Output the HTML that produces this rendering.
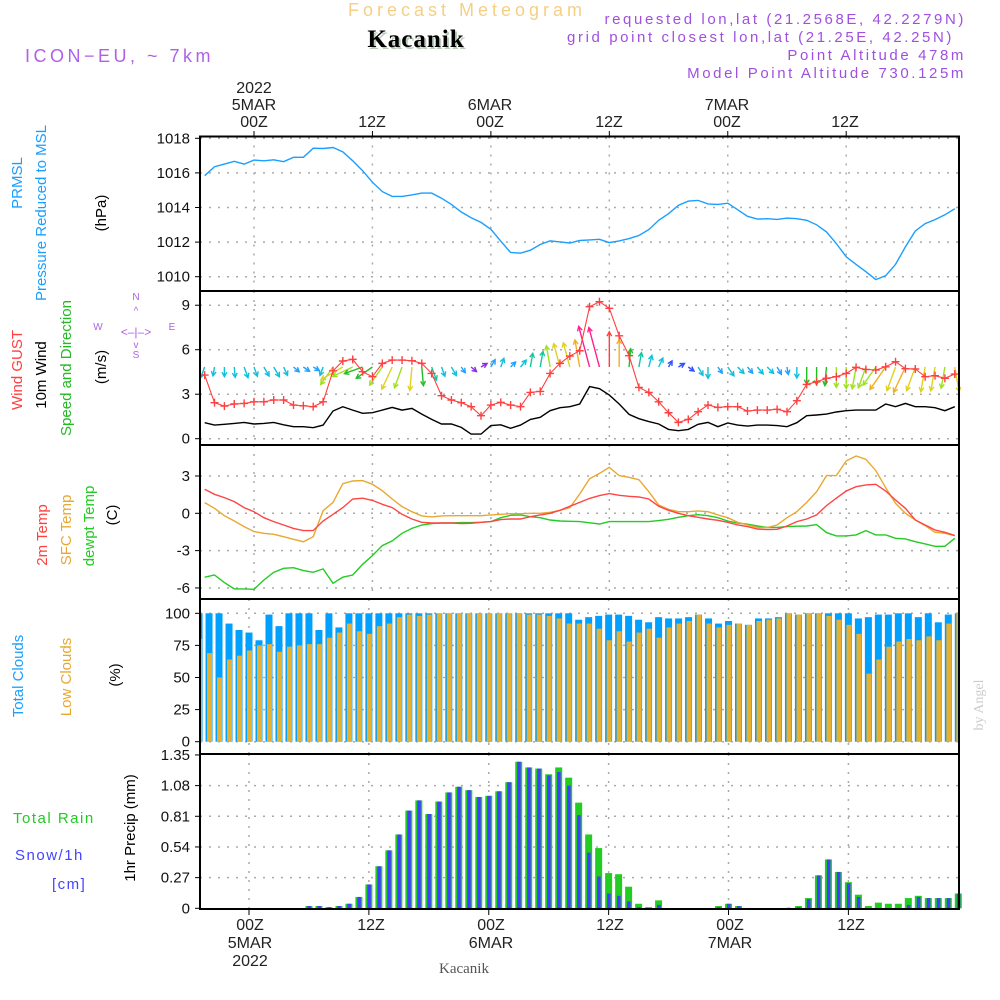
<!DOCTYPE html>
<html><head><meta charset="utf-8"><style>
body{margin:0;background:#fff}
svg{display:block}
text{font-family:"Liberation Sans",sans-serif}
</style></head><body>
<svg id="chart" width="1000" height="1000" viewBox="0 0 1000 1000" xmlns="http://www.w3.org/2000/svg">
<rect x="0" y="0" width="1000" height="1000" fill="#fff"/>
<text x="467" y="16" font-size="18" fill="#f5cf85" text-anchor="middle" letter-spacing="4">Forecast Meteogram</text>
<text x="418" y="49" font-size="25" font-weight="bold" fill="#b8ccb8" text-anchor="middle" style="font-family:'Liberation Serif',serif" letter-spacing="1">Kacanik</text>
<text x="416" y="47" font-size="25" font-weight="bold" fill="#000" text-anchor="middle" style="font-family:'Liberation Serif',serif" letter-spacing="1">Kacanik</text>
<text x="25" y="62" font-size="18" fill="#b060e8" letter-spacing="3.5">ICON−EU, ~ 7km</text>
<g font-size="15" fill="#a050e0" text-anchor="end" letter-spacing="2.6">
<text x="966" y="24">requested lon,lat (21.2568E, 42.2279N)</text>
<text x="954" y="42">grid point closest lon,lat (21.25E, 42.25N)</text>
<text x="966" y="60">Point Altitude 478m</text>
<text x="966" y="78">Model Point Altitude 730.125m</text>
</g>
<g font-size="16" fill="#222" text-anchor="middle">
<text x="254" y="93">2022</text>
<text x="254" y="110">5MAR</text>
<text x="254" y="127">00Z</text>
<text x="372" y="127">12Z</text>
<text x="490" y="110">6MAR</text>
<text x="490" y="127">00Z</text>
<text x="609" y="127">12Z</text>
<text x="727" y="110">7MAR</text>
<text x="727" y="127">00Z</text>
<text x="845" y="127">12Z</text>
</g>
<g font-size="16" fill="#222" text-anchor="middle">
<text x="250" y="930">00Z</text>
<text x="250" y="948">5MAR</text>
<text x="250" y="966">2022</text>
<text x="371" y="930">12Z</text>
<text x="491" y="930">00Z</text>
<text x="491" y="948">6MAR</text>
<text x="610" y="930">12Z</text>
<text x="730" y="930">00Z</text>
<text x="730" y="948">7MAR</text>
<text x="851" y="930">12Z</text>
</g>
<text x="464" y="973" font-size="15" fill="#555" text-anchor="middle" style="font-family:'Liberation Serif',serif">Kacanik</text>
<text transform="translate(983,705) rotate(-90)" font-size="14" fill="#ccc" text-anchor="middle" style="font-family:'Liberation Serif',serif">by Angel</text>

<g font-size="15" text-anchor="middle">
<text transform="translate(22,183) rotate(-90)" fill="#1a9fff">PRMSL</text>
<text transform="translate(46,213) rotate(-90)" fill="#1a9fff">Pressure Reduced to MSL</text>
<text transform="translate(106,213) rotate(-90)" fill="#000">(hPa)</text>
</g>
<g font-size="15" text-anchor="middle">
<text transform="translate(22,370) rotate(-90)" fill="#ff4040">Wind GUST</text>
<text transform="translate(46,375) rotate(-90)" fill="#000">10m Wind</text>
<text transform="translate(71,368) rotate(-90)" fill="#22bb22">Speed and Direction</text>
<text transform="translate(106,367) rotate(-90)" fill="#000">(m/s)</text>
<g fill="#b060e8" font-size="10">
<text x="136" y="300">N</text><text x="136" y="358">S</text><text x="98" y="330">W</text><text x="172" y="330">E</text>
<text x="136" y="336" font-size="12">&lt;–|–&gt;</text>
<text x="136" y="314" font-size="10">^</text><text x="136" y="348" font-size="10">v</text>
</g>
</g>
<g font-size="15" text-anchor="middle">
<text transform="translate(47,535) rotate(-90)" fill="#ff4040">2m Temp</text>
<text transform="translate(71,530) rotate(-90)" fill="#e8a830">SFC Temp</text>
<text transform="translate(94,526) rotate(-90)" fill="#22cc22">dewpt Temp</text>
<text transform="translate(117,515) rotate(-90)" fill="#000">(C)</text>
</g>
<g font-size="15" text-anchor="middle">
<text transform="translate(23,676) rotate(-90)" fill="#1a9fff">Total Clouds</text>
<text transform="translate(71,677) rotate(-90)" fill="#e8a830">Low Clouds</text>
<text transform="translate(120,675) rotate(-90)" fill="#000">(%)</text>
</g>
<g font-size="15">
<text x="13" y="823" fill="#22cc22" letter-spacing="1.5">Total   Rain</text>
<text x="15" y="860" fill="#4444ff" letter-spacing="1.5">Snow/1h</text>
<text x="52" y="889" fill="#4444ff" letter-spacing="1.5">[cm]</text>
<text transform="translate(135,828) rotate(-90)" fill="#000" text-anchor="middle">1hr Precip (mm)</text>
</g>
<g id="plot"></g>
</svg>
<script>
const hours=[];for(let h=-5;h<=71;h++)hours.push(h);
const pressure=[1015.84,1016.36,1016.51,1016.67,1016.51,1016.74,1016.7,1016.76,1016.65,1016.9,1016.9,1017.43,1017.41,1017.47,1017.22,1016.7,1016.13,1015.46,1014.92,1014.64,1014.64,1014.73,1014.83,1014.83,1014.54,1014.18,1013.74,1013.41,1013.14,1012.74,1012.05,1011.40,1011.36,1011.53,1011.86,1012.07,1012.01,1011.95,1012.09,1012.13,
1012.16,1011.97,1012.07,1012.2,1012.38,1012.72,1013.26,1013.64,1014.12,1014.37,1014.41,1014.21,1014.18,1014.25,1013.87,1013.49,1013.33,1013.35,1013.31,1013.39,1013.35,1013.26,1013.0,1012.59,1011.92,1011.15,1010.71,1010.29,1009.83,1010.06,1010.71,1011.72,1012.64,1013.07,1013.3,1013.58,1013.93];
const gust=[4.29,2.43,2.2,2.34,2.38,2.49,2.49,2.61,2.61,2.27,2.22,2.16,2.49,4.58,5.24,5.35,4.52,4.18,5.08,5.3,5.3,5.26,5.08,4.4,2.9,2.61,2.43,2.16,1.55,2.27,2.45,2.27,2.16,3.12,3.19,4.4,5.08,5.57,5.93,8.9,
9.24,8.79,6.94,5.6,3.46,3.12,2.49,1.75,1.1,1.3,1.82,2.27,2.11,2.16,2.16,1.87,1.93,1.93,1.98,1.82,2.56,3.66,3.84,4.07,4.18,4.4,4.81,4.67,4.63,4.85,5.19,4.72,4.7,4.18,4.25,4.07,4.36];
const wind=[1.08,0.92,0.97,1.03,1.1,0.99,1.03,1.1,0.94,0.81,0.81,0.74,0.92,1.87,2.16,1.93,1.71,1.75,1.93,2.11,1.93,2.04,1.66,1.3,0.99,0.99,0.76,0.31,0.31,0.88,0.94,0.7,0.92,1.3,1.44,1.89,2.09,2.16,2.34,3.51,
3.37,2.94,2.34,1.64,1.35,1.15,0.99,0.63,0.54,0.63,0.97,1.1,0.81,1.06,0.92,0.85,0.92,0.92,0.88,0.81,1.08,1.55,1.6,1.66,1.8,1.89,1.93,1.93,1.93,2.34,2.16,2.38,2.16,2.16,2.09,1.89,2.16];
const windDir=[200,190,180,175,160,160,150,150,155,130,125,120,
200,215,240,245,250,235,215,205,200,185,175,160,160,150,145,130,
60,30,20,45,40,10,10,350,345,345,350,345,345,0,0,5,
10,15,25,30,60,125,150,180,145,145,135,140,140,135,150,170,
180,180,180,185,180,180,190,200,215,215,200,205,200,190,190,190,170];
const temp2m=[1.93,1.53,1.26,0.94,0.46,0.13,-0.35,-0.67,-0.94,-1.21,-1.39,-1.39,-0.62,-0.08,0.46,1.15,1.21,1.04,0.72,0.46,-0.08,-0.46,-0.72,-0.78,-0.78,-0.78,-0.83,-0.8,-0.72,-0.67,-0.51,-0.46,-0.46,-0.27,-0.13,0,0.24,0.56,0.88,1.2,
1.42,1.58,1.45,1.37,1.31,1.15,0.56,0.24,0,-0.19,-0.32,-0.46,-0.56,-0.72,-0.94,-1.07,-1.26,-1.31,-1.29,-1.02,-0.67,-0.46,-0.13,0.62,1.21,1.79,2.14,2.28,2.33,1.79,1.07,0.4,-0.54,-0.94,-1.34,-1.53,-1.79];
const tempSfc=[0.86,0.4,-0.19,-0.62,-1.07,-1.47,-1.61,-1.69,-1.88,-2.09,-2.28,-1.88,0.21,0.88,2.38,2.6,2.63,2.33,1.82,1.15,0.54,0.13,-0.21,-0.29,-0.21,-0.19,-0.19,-0.19,-0.19,-0.13,-0.08,-0.03,-0.03,0,0,0.08,0.24,0.46,1.55,2.77,
3.21,3.7,3.03,2.89,2.7,1.74,0.67,0.32,0.13,0.13,0.19,0.13,-0.13,-0.35,-0.72,-0.94,-1.13,-1.15,-0.94,-0.35,0.13,0.88,1.74,3.03,3.03,4.21,4.61,4.34,3.43,2.06,0.8,0,-0.54,-0.99,-1.53,-1.61,-1.79];
const dewpt=[-5.14,-4.96,-5.57,-6.08,-6.08,-6.11,-5.36,-4.74,-4.42,-4.37,-4.61,-4.74,-4.47,-5.63,-5.14,-4.96,-4.1,-3.4,-2.6,-2.22,-1.61,-1.21,-0.94,-0.83,-0.78,-0.78,-0.75,-0.75,-0.72,-0.67,-0.35,-0.16,-0.13,-0.27,-0.35,-0.54,-0.62,-0.64,-0.67,-0.76,
-0.86,-0.67,-0.67,-0.67,-0.67,-0.67,-0.59,-0.48,-0.32,-0.19,-0.11,-0.19,-0.35,-0.62,-0.78,-0.88,-1.02,-1.13,-1.13,-1.07,-1.04,-1.02,-0.91,-1.55,-1.82,-1.82,-1.74,-1.39,-1.74,-1.74,-2.01,-2.06,-2.28,-2.46,-2.65,-2.65,-2.01];
const totalClouds=[100,100,100,92,87,85,79,99,90,100,100,100,87,100,89,100,100,100,100,100,100,100,100,100,100,100,100,100,100,100,100,100,100,100,100,100,100,100,95,97,
98,99,99,98,95,93,97,96,96,97,99,96,92,94,92,91,96,96,97,100,99,100,100,100,100,100,96,97,99,99,100,100,97,100,93,99,100];
const lowClouds=[80,69,50,64,67,71,75,76,70,74,75,76,76,81,85,92,86,84,90,92,97,99,98,99,100,100,100,100,100,100,100,100,100,99,99,98,96,92,92,92,
88,79,86,78,85,88,81,89,92,94,99,92,89,91,92,91,94,95,96,100,99,100,100,98,95,91,84,53,64,74,78,80,79,82,79,92,100];
const rain=[0,0,0,0,0,0,0,0,0,0,0,0.02,0.02,0.01,0.02,0.04,0.10,0.21,0.37,0.51,0.65,0.86,0.95,0.83,0.94,1.02,1.07,1.04,0.98,0.99,1.03,1.11,1.29,1.24,1.23,1.18,1.24,1.15,0.93,0.65,
0.53,0.31,0.30,0.19,0.04,0.01,0.07,0,0,0,0,0,0.02,0.04,0.02,0,0,0,0,0,0.02,0.09,0.29,0.43,0.32,0.23,0.12,0.02,0.05,0.04,0.04,0.09,0.11,0.09,0.09,0.09,0.13];
const snow=[0,0,0,0,0,0,0,0,0,0,0,0.02,0.02,0.01,0.02,0.04,0.10,0.21,0.37,0.51,0.65,0.86,0.95,0.83,0.94,1.02,1.07,1.04,0.98,0.99,1.03,1.11,1.29,1.24,1.23,1.17,1.20,1.08,0.82,0.49,
0.28,0.13,0.11,0.06,0.01,0,0.03,0,0,0,0,0,0.01,0.04,0.02,0.003,0,0,0,0.005,0.01,0.08,0.29,0.43,0.32,0.22,0.10,0,0,0,0,0.03,0.10,0.09,0.09,0.09,0.13];
const pressTicks=[1010,1012,1014,1016,1018];
const windTicks=[0,3,6,9];
const tempTicks=[-6,-3,0,3];
const tempTickLabels=["-6","-3","0","3"];
const cloudTicks=[0,25,50,75,100];
const precipTicks=[0,0.27,0.54,0.81,1.08,1.35];
const gridHours=[0,12,24,36,48,60];

const NS="http://www.w3.org/2000/svg";
const plot=document.getElementById('plot');
function el(tag,attrs,parent){const e=document.createElementNS(NS,tag);for(const k in attrs)e.setAttribute(k,attrs[k]);(parent||plot).appendChild(e);return e;}
const L=200,R=959;
const xTop=h=>254+h*9.87;
const xBot=h=>249+h*9.99;
const yP=v=>276.7-(v-1010)*17.3;
const yW=v=>438.7-v*14.83;
const yT=v=>513.3-v*12.44;
const yC=v=>741.7-v*1.284;
const yR=v=>908.3-v*113.6;
const panels=[[136.5,291],[291,445],[445,599],[599,754],[754,909]];

function hgrid(vals,yf,top,bot,name){vals.forEach(v=>{const y=yf(v);if(y>top+1&&y<bot-1){const g=el('line',{x1:L,x2:R,y1:y,y2:y,stroke:'#aaa','stroke-width':1.5,'stroke-dasharray':'2,7'});}});}
function vgrid(xf,top,bot,name){gridHours.forEach(h=>{const x=xf(h);const g=el('line',{x1:x,x2:x,y1:top,y2:bot,stroke:'#aaa','stroke-width':1.5,'stroke-dasharray':'2,7'});});}
function yticks(vals,labels,yf,name){vals.forEach((v,i)=>{const y=yf(v);const t=el('line',{x1:L-5,x2:L,y1:y,y2:y,stroke:'#000','stroke-width':1});const tx=el('text',{x:L-10,y:y+5,'font-size':15,'text-anchor':'end',fill:'#111'});tx.textContent=labels[i];});}
function line(vals,xf,yf,color,name,w){const d=vals.map((v,i)=>(i?'L':'M')+xf(hours[i]).toFixed(1)+','+yf(v).toFixed(1)).join('');const p=el('path',{d:d,fill:'none',stroke:color,'stroke-width':w||1.3});}

hgrid(pressTicks,yP,136.5,291,'pressure');vgrid(xTop,136.5,291,'pressure');
hgrid(windTicks,yW,291,445,'wind');vgrid(xTop,291,445,'wind');
hgrid(tempTicks,yT,445,599,'temp');vgrid(xTop,445,599,'temp');
hgrid(cloudTicks,yC,599,754,'cloud');vgrid(xBot,599,754,'cloud');
hgrid(precipTicks,yR,754,909,'precip');vgrid(xBot,754,909,'precip');

yticks(pressTicks,pressTicks.map(String),yP,'pressure');
yticks(windTicks,windTicks.map(String),yW,'wind');
yticks(tempTicks,tempTickLabels,yT,'temp');
yticks(cloudTicks,cloudTicks.map(String),yC,'cloud');
yticks(precipTicks,precipTicks.map(v=>v===0?'0':v.toFixed(2)),yR,'precip');

line(pressure,xTop,yP,'#1a9fff','pressure-line',1.4);

function arrowColor(s){if(s<0.45)return'#8a2be2';if(s<0.7)return'#3050ff';if(s<0.9)return'#20a0ff';if(s<1.2)return'#10c0d8';if(s<1.5)return'#10c8a0';if(s<1.8)return'#20c020';if(s<2.0)return'#a0e020';if(s<2.2)return'#e0d020';if(s<2.5)return'#f0b020';if(s<3)return'#ff4040';return'#ff2090';}
hours.forEach((h,i)=>{const s=wind[i];const len=Math.min(42,Math.max(7,13*s-3));const a=windDir[i]*Math.PI/180;const x0=xTop(h),y0=367;const x1=x0+len*Math.sin(a),y1=y0-len*Math.cos(a);const c=arrowColor(s);
const g=el('g',{stroke:c,'stroke-width':1.4,fill:'none'});


el('line',{x1:x0,y1:y0,x2:x1,y2:y1},g);
const hl=5,ha=0.5;const b=Math.atan2(y1-y0,x1-x0);
el('path',{d:`M${x1-hl*Math.cos(b-ha)},${y1-hl*Math.sin(b-ha)}L${x1},${y1}L${x1-hl*Math.cos(b+ha)},${y1-hl*Math.sin(b+ha)}`},g);});

line(wind,xTop,yW,'#000','wind-speed-line',1.4);
line(gust,xTop,yW,'#ff4040','wind-gust-line',1.1);
hours.forEach((h,i)=>{const x=xTop(h),y=yW(gust[i]);const m=el('path',{d:`M${x-4},${y}H${x+4}M${x},${y-4}V${y+4}`,stroke:'#ff4040','stroke-width':1.4});});

line(dewpt,xTop,yT,'#22cc22','dewpoint-line',1.4);
line(tempSfc,xTop,yT,'#e8a830','sfc-temp-line',1.4);
line(temp2m,xTop,yT,'#ff4444','2m-temp-line',1.4);

hours.forEach((h,i)=>{const x=xBot(h);let t=yC(totalClouds[i]);let b=el('rect',{x:Math.max(L,x-3.5),y:t,width:Math.min(x+3.5,R)-Math.max(L,x-3.5),height:yC(0)-t,fill:'#00a0ff'});
t=yC(lowClouds[i]);const lx=Math.max(L,x-2);b=el('rect',{x:lx,y:t,width:Math.max(0,Math.min(x+3,R)-lx),height:yC(0)-t,fill:'#e8b030'});});

hours.forEach((h,i)=>{const x=xBot(h);if(rain[i]>0){const t=yR(rain[i]);const b=el('rect',{x:x-3.5,y:t,width:7,height:yR(0)-t,fill:'#22cc22'});}
if(snow[i]>0){const t=yR(snow[i]);const b=el('rect',{x:x-1.5,y:t,width:3.5,height:yR(0)-t,fill:'#4040ff'});}});

panels.forEach((p,i)=>{const r=el('rect',{x:L,y:p[0],width:R-L,height:p[1]-p[0],fill:'none',stroke:'#000','stroke-width':2});});
gridHours.forEach(h=>{let t=el('line',{x1:xTop(h),x2:xTop(h),y1:131,y2:136.5,stroke:'#000','stroke-width':1});
t=el('line',{x1:xBot(h),x2:xBot(h),y1:909,y2:915,stroke:'#000','stroke-width':1});});
</script>
</body></html>
